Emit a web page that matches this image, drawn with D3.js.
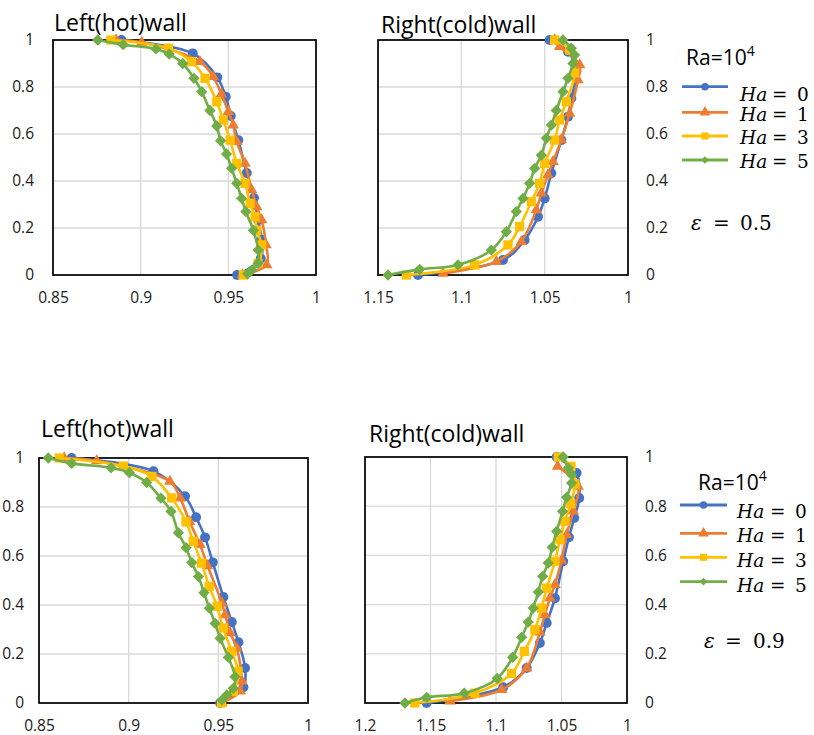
<!DOCTYPE html>
<html>
<head>
<meta charset="utf-8">
<script src="https://cdn.jsdelivr.net/npm/d3@7"></script>
<style>
  body { margin: 0; background: #fff; }
  svg { display: block; }
  .tick text { font-family: "Open Sans", sans-serif; font-size: 15.5px; fill: #1a1a1a; }
</style>
</head>
<body>
<script>
// ---------------- DATA ----------------
const seriesNames = ["Ha = 0", "Ha = 1", "Ha = 3", "Ha = 5"];
const haValues = ["0", "1", "3", "5"];
const seriesColors = ["#4472C4", "#ED7D31", "#FFC000", "#70AD47"];
const yTicks = [0, 0.2, 0.4, 0.6, 0.8, 1];
const hotTicks = [0.85, 0.9, 0.95, 1];
const coldTicksE05 = [1.15, 1.1, 1.05, 1];
const coldTicksE09 = [1.2, 1.15, 1.1, 1.05, 1];
const panelTitles = ["Left(hot)wall", "Right(cold)wall", "Left(hot)wall", "Right(cold)wall"];
const epsilonLabels = ["0.5", "0.9"];

// eps = 0.5, hot wall  [value, y]
const hotE05_Ha0 = [[0.889,1],[0.9297,0.943],[0.9437,0.841],[0.9485,0.759],[0.9514,0.677],[0.9557,0.574],[0.9605,0.434],[0.9646,0.328],[0.967,0.234],[0.969,0.15],[0.9685,0.07],[0.955,0]];
const hotE05_Ha1 = [[0.886,1],[0.9006,0.99],[0.9338,0.908],[0.9414,0.844],[0.946,0.77],[0.95,0.695],[0.9528,0.638],[0.9548,0.567],[0.9595,0.475],[0.9633,0.362],[0.9662,0.29],[0.969,0.234],[0.9715,0.128],[0.9719,0.043],[0.958,0]];
const hotE05_Ha3 = [[0.883,1],[0.9158,0.965],[0.929,0.908],[0.9367,0.837],[0.9434,0.737],[0.9471,0.66],[0.951,0.574],[0.9548,0.475],[0.9595,0.39],[0.9624,0.305],[0.9652,0.248],[0.9662,0.19],[0.969,0.128],[0.967,0.05],[0.9586,0]];
const hotE05_Ha5 = [[0.8755,1],[0.89,0.98],[0.9087,0.962],[0.9163,0.94],[0.924,0.9],[0.9304,0.837],[0.9348,0.78],[0.9395,0.7],[0.9434,0.634],[0.9456,0.571],[0.949,0.515],[0.9519,0.454],[0.9548,0.39],[0.9576,0.326],[0.96,0.27],[0.9643,0.19],[0.967,0.106],[0.967,0.05],[0.9633,0.02],[0.961,0.005]];

// eps = 0.5, cold wall
const coldE05_Ha0 = [[1.047,1],[1.036,0.95],[1.031,0.865],[1.034,0.752],[1.036,0.674],[1.04,0.574],[1.046,0.433],[1.05,0.326],[1.054,0.248],[1.062,0.149],[1.075,0.064],[1.126,0]];
const coldE05_Ha1 = [[1.044,1],[1.041,0.972],[1.029,0.894],[1.03,0.83],[1.035,0.688],[1.04,0.575],[1.045,0.482],[1.048,0.426],[1.052,0.348],[1.055,0.277],[1.064,0.142],[1.079,0.057],[1.111,0.007]];
const coldE05_Ha3 = [[1.044,1],[1.035,0.957],[1.032,0.86],[1.037,0.737],[1.041,0.66],[1.044,0.574],[1.05,0.475],[1.053,0.39],[1.058,0.312],[1.065,0.206],[1.072,0.128],[1.092,0.043],[1.133,0]];
const coldE05_Ha5 = [[1.039,1],[1.034,0.965],[1.032,0.936],[1.033,0.9],[1.036,0.837],[1.039,0.78],[1.043,0.7],[1.046,0.638],[1.049,0.582],[1.052,0.51],[1.056,0.454],[1.059,0.39],[1.063,0.326],[1.067,0.27],[1.073,0.184],[1.082,0.106],[1.102,0.043],[1.125,0.024],[1.144,0]];

// eps = 0.9, hot wall
const hotE09_Ha0 = [[0.8682,1],[0.9138,0.946],[0.9314,0.844],[0.9376,0.758],[0.9426,0.676],[0.9469,0.574],[0.9528,0.433],[0.9575,0.331],[0.9612,0.248],[0.9649,0.143],[0.964,0.064],[0.951,0]];
const hotE09_Ha1 = [[0.864,1],[0.8822,0.988],[0.923,0.904],[0.9287,0.836],[0.934,0.74],[0.9398,0.646],[0.944,0.56],[0.952,0.408],[0.9538,0.36],[0.9566,0.286],[0.9603,0.224],[0.9631,0.089],[0.9622,0.048],[0.952,0]];
const hotE09_Ha3 = [[0.8613,1],[0.897,0.967],[0.9129,0.925],[0.924,0.837],[0.932,0.739],[0.936,0.66],[0.9406,0.571],[0.9449,0.476],[0.9493,0.395],[0.9527,0.306],[0.9574,0.211],[0.961,0.129],[0.9584,0.048],[0.9518,0]];
const hotE09_Ha5 = [[0.8552,1],[0.8682,0.978],[0.8902,0.96],[0.9004,0.94],[0.91,0.9],[0.918,0.836],[0.9236,0.782],[0.9277,0.695],[0.932,0.634],[0.9352,0.573],[0.9389,0.516],[0.942,0.45],[0.945,0.387],[0.9482,0.325],[0.951,0.264],[0.9556,0.186],[0.9593,0.107],[0.9584,0.06],[0.9547,0.033],[0.952,0.012]];

// eps = 0.9, cold wall
const coldE09_Ha0 = [[1.0537,1],[1.0385,0.935],[1.0365,0.833],[1.0403,0.752],[1.0443,0.674],[1.0487,0.576],[1.055,0.426],[1.0613,0.325],[1.0665,0.244],[1.0766,0.142],[1.0945,0.064],[1.1529,0]];
const coldE09_Ha1 = [[1.053,0.962],[1.0373,0.88],[1.041,0.78],[1.0461,0.684],[1.05,0.58],[1.055,0.481],[1.0588,0.427],[1.0627,0.359],[1.0665,0.288],[1.0766,0.142],[1.0957,0.054],[1.1351,0.007]];
const coldE09_Ha3 = [[1.0525,1],[1.0428,0.962],[1.0397,0.89],[1.043,0.81],[1.0474,0.739],[1.0512,0.664],[1.055,0.576],[1.0613,0.467],[1.0652,0.386],[1.0703,0.298],[1.0784,0.21],[1.0881,0.12],[1.1161,0.04],[1.1619,0]];
const coldE09_Ha5 = [[1.0487,1],[1.0448,0.955],[1.0423,0.928],[1.0423,0.894],[1.0461,0.836],[1.0492,0.779],[1.0537,0.698],[1.0571,0.633],[1.0601,0.569],[1.0644,0.515],[1.0677,0.451],[1.0716,0.386],[1.0754,0.329],[1.0804,0.267],[1.0873,0.186],[1.0991,0.1],[1.1242,0.04],[1.1529,0.023],[1.1695,0]];

// ---------------- LAYOUT ----------------
const W = 814, H = 735;
const svg = d3.select("body").append("svg").attr("width", W).attr("height", H);

const panels = [
  { l: 53, r: 316, t: 40, b: 275, xDom: [0.85, 1], xTicks: hotTicks, yAxis: "left", yPad: 19,
    title: panelTitles[0], tx: 54, ty: 31,
    data: [hotE05_Ha0, hotE05_Ha1, hotE05_Ha3, hotE05_Ha5] },
  { l: 378, r: 628, t: 40, b: 275, xDom: [1.15, 1], xTicks: coldTicksE05, yAxis: "right", yPad: 18,
    title: panelTitles[1], tx: 381, ty: 33,
    data: [coldE05_Ha0, coldE05_Ha1, coldE05_Ha3, coldE05_Ha5] },
  { l: 39, r: 308, t: 458, b: 703, xDom: [0.85, 1], xTicks: hotTicks, yAxis: "left", yPad: 15,
    title: panelTitles[2], tx: 41, ty: 437,
    data: [hotE09_Ha0, hotE09_Ha1, hotE09_Ha3, hotE09_Ha5] },
  { l: 365, r: 627, t: 457, b: 703, xDom: [1.2, 1], xTicks: coldTicksE09, yAxis: "right", yPad: 18,
    title: panelTitles[3], tx: 369, ty: 442,
    data: [coldE09_Ha0, coldE09_Ha1, coldE09_Ha3, coldE09_Ha5] }
];

const markerShapes = [
  { type: d3.symbolCircle, size: 78, rot: 0 },
  { type: d3.symbolTriangle, size: 58, rot: 0 },
  { type: d3.symbolSquare, size: 86, rot: 0 },
  { type: d3.symbolSquare, size: 64, rot: 45 }
];
const legendShapes = [
  { type: d3.symbolCircle, size: 44, rot: 0 },
  { type: d3.symbolTriangle, size: 50, rot: 0 },
  { type: d3.symbolSquare, size: 50, rot: 0 },
  { type: d3.symbolSquare, size: 30, rot: 45 }
];

function drawPanel(p) {
  const x = d3.scaleLinear().domain(p.xDom).range([p.l, p.r]);
  const y = d3.scaleLinear().domain([0, 1]).range([p.b, p.t]);
  const g = svg.append("g");

  g.append("g").selectAll("line").data(p.xTicks).join("line")
    .attr("x1", d => x(d)).attr("x2", d => x(d)).attr("y1", p.t).attr("y2", p.b)
    .attr("stroke", "#d9d9d9").attr("stroke-width", 1.3);
  g.append("g").selectAll("line").data(yTicks).join("line")
    .attr("x1", p.l).attr("x2", p.r).attr("y1", d => y(d)).attr("y2", d => y(d))
    .attr("stroke", "#d9d9d9").attr("stroke-width", 1.3);

  g.append("rect").attr("x", p.l).attr("y", p.t).attr("width", p.r - p.l).attr("height", p.b - p.t)
    .attr("fill", "none").attr("stroke", "#000").attr("stroke-width", 1.7);

  const xa = g.append("g").attr("transform", `translate(0,${p.b})`)
    .call(d3.axisBottom(x).tickValues(p.xTicks).tickSize(0).tickPadding(17).tickFormat(d => String(d)));
  xa.select(".domain").remove();
  let ya;
  if (p.yAxis === "left") {
    ya = g.append("g").attr("transform", `translate(${p.l},0)`)
      .call(d3.axisLeft(y).tickValues(yTicks).tickSize(0).tickPadding(p.yPad).tickFormat(d => String(d)));
  } else {
    ya = g.append("g").attr("transform", `translate(${p.r},0)`)
      .call(d3.axisRight(y).tickValues(yTicks).tickSize(0).tickPadding(p.yPad).tickFormat(d => String(d)));
  }
  ya.select(".domain").remove();

  g.append("text").attr("x", p.tx).attr("y", p.ty).text(p.title)
    .attr("font-family", "Open Sans, sans-serif").attr("font-size", 23).attr("fill", "#000");

  const line = d3.line().x(d => x(d[0])).y(d => y(d[1])).curve(d3.curveCatmullRom.alpha(0.5));
  p.data.forEach((s, i) => {
    const sg = g.append("g");
    sg.append("path").datum(s).attr("d", line).attr("fill", "none")
      .attr("stroke", seriesColors[i]).attr("stroke-width", 2.6);
    const m = markerShapes[i];
    sg.selectAll("path.m").data(s).join("path").attr("class", "m")
      .attr("d", d3.symbol().type(m.type).size(m.size))
      .attr("transform", d => `translate(${x(d[0])},${y(d[1])}) rotate(${m.rot})`)
      .attr("fill", seriesColors[i]);
  });
}
panels.forEach(drawPanel);

// ---------------- LEGENDS ----------------
const legends = [
  { raX: 686, raY: 65, lx1: 682, lx2: 728, lineY: [86.7, 112.3, 136, 160], textY: [101, 120.5, 143.5, 168],
    hx: 740, ex: 771, vx: 797, epsX: 691, epsY: 230, eqX: 713, valX: 740, eps: epsilonLabels[0] },
  { raX: 698, raY: 490, lx1: 680, lx2: 727, lineY: [505, 533.3, 557.3, 581.7], textY: [518, 541.5, 566.5, 592],
    hx: 737, ex: 769, vx: 795, epsX: 704, epsY: 648, eqX: 725, valX: 753, eps: epsilonLabels[1] }
];

function serifText(g, x, y, size, str, italic) {
  return g.append("text").attr("x", x).attr("y", y)
    .attr("font-family", "DejaVu Serif, serif").attr("font-size", size)
    .attr("font-style", italic ? "italic" : "normal").attr("fill", "#000").text(str);
}

legends.forEach(L => {
  const g = svg.append("g");
  const ra = g.append("text").attr("x", L.raX).attr("y", L.raY)
    .attr("font-family", "Open Sans, sans-serif").attr("font-size", 21).attr("fill", "#000");
  ra.append("tspan").text("Ra=10");
  ra.append("tspan").text("4").attr("font-size", 14).attr("dy", -9);

  seriesNames.forEach((name, i) => {
    g.append("line").attr("x1", L.lx1).attr("x2", L.lx2).attr("y1", L.lineY[i]).attr("y2", L.lineY[i])
      .attr("stroke", seriesColors[i]).attr("stroke-width", 2.8);
    const m = legendShapes[i];
    g.append("path").attr("d", d3.symbol().type(m.type).size(m.size)())
      .attr("transform", `translate(${(L.lx1 + L.lx2) / 2},${L.lineY[i]}) rotate(${m.rot})`)
      .attr("fill", seriesColors[i]);
    serifText(g, L.hx, L.textY[i], 18.5, "Ha", true);
    serifText(g, L.ex + 1, L.textY[i], 18.5, "=", false);
    serifText(g, L.vx, L.textY[i], 18.5, haValues[i], false);
  });

  serifText(g, L.epsX, L.epsY, 20, "ε", true);
  serifText(g, L.eqX, L.epsY, 20, "=", false);
  serifText(g, L.valX, L.epsY, 20, L.eps, false);
});
</script>
</body>
</html>
